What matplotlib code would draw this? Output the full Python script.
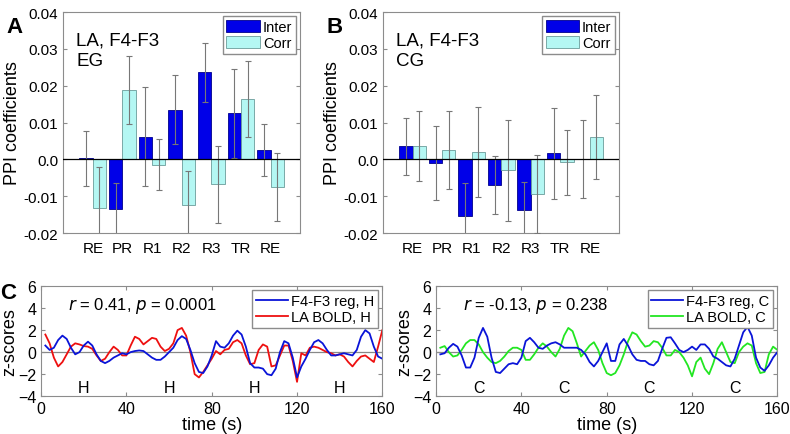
import matplotlib.pyplot as plt
import numpy as np

plt.rcParams['font.family'] = ['Liberation Sans', 'DejaVu Sans']

# Datos de los paneles A y B (coeficientes PPI)
phases = ['RE', 'PR', 'R1', 'R2', 'R3', 'TR', 'RE']
eg_inter = [0.0003, -0.0136, 0.0062, 0.0135, 0.0237, 0.0125, 0.0026]
eg_inter_err = [0.0074, 0.0071, 0.0134, 0.0093, 0.0080, 0.0120, 0.0070]
eg_corr = [-0.0131, 0.0189, -0.0014, -0.0123, -0.0068, 0.0165, -0.0076]
eg_corr_err = [0.0110, 0.0093, 0.0068, 0.0091, 0.0104, 0.0103, 0.0092]
cg_inter = [0.0035, -0.0009, -0.0153, -0.0069, -0.0138, 0.0016, 0.0001]
cg_inter_err = [0.0077, 0.0100, 0.0090, 0.0079, 0.0077, 0.0123, 0.0105]
cg_corr = [0.0035, 0.0025, 0.0020, -0.0030, -0.0095, -0.0008, 0.0061]
cg_corr_err = [0.0095, 0.0105, 0.0122, 0.0138, 0.0106, 0.0089, 0.0113]

# Datos del panel C (series temporales, cada 2 s)
time = list(range(2, 161, 2))
h_reg = [0.6, 0.2, 0.4, 1.1, 1.5, 1.2, 0.4, -0.2, 0.0, 0.6,
         0.95, 0.6, -0.2, -0.8, -1.0, -0.8, -0.5, -0.3, -0.1, -0.2,
         0.0, 0.1, 0.15, 0.1, -0.2, -0.5, -0.7, -0.7, -0.4, 0.0,
         0.4, 1.1, 1.45, 1.2, 0.2, -1.0, -1.8, -1.9, -1.3, -0.3,
         1.0, 0.5, 0.4, 0.8, 1.5, 1.95, 1.6, 0.5, -1.0, -1.4,
         -1.4, -1.5, -2.0, -2.1, -1.5, 0.0, 1.0, 0.8, -0.5, -2.3,
         -1.3, -0.6, 0.2, 0.9, 1.1, 0.8, 0.2, -0.3, -0.3, -0.2,
         -0.1, -0.2, -0.3, 0.2, 1.4, 2.0, 1.7, 0.5, -0.4, -0.6]
h_bold = [1.6, 0.8, -0.5, -1.3, -0.9, -0.2, 0.5, 0.8, 0.7, 0.55,
          0.5, 0.3, -0.3, -0.8, -0.6, 0.0, 0.5, 0.2, -0.3, -0.3,
          0.6, 1.4, 1.2, 0.7, 1.0, 1.3, 1.2, 0.5, 0.1, 0.3,
          0.8, 2.0, 2.2, 1.5, 0.0, -2.0, -2.3, -1.8, -1.2, -0.6,
          0.1, -0.2, 0.2, 0.3, 0.9, 1.1, 0.8, -0.3, -1.1, -1.0,
          0.2, 0.7, 0.5, -1.3, -1.2, -0.3, 0.6, 0.6, -0.8, -2.7,
          -0.1, -0.3, 0.4, 0.5, 0.4, 0.2, 0.0, -0.1, -0.3, -0.2,
          -0.4, -0.9, -1.3, -0.8, -0.4, -0.3, -0.6, -0.9, 0.5, 2.0]
c_reg = [-0.2, -0.1, 0.4, 0.75, 0.5, -0.3, -1.4, -1.4, -0.5, 1.3,
         2.2, 1.4, -0.5, -1.8, -1.9, -1.5, -1.1, -1.0, -1.1, -0.5,
         1.0, 1.3, 0.9, 0.4, 0.3, 0.6, 0.8, 0.9, 0.7, 0.4,
         0.4, 0.4, 0.4, 0.2, -0.2, -0.9, -1.3, -0.8, 0.0, 0.8,
         -0.8, -0.8, 0.7, 1.2, 0.6, -0.2, -0.7, -0.8, -0.8, -1.1,
         -1.2, -0.8, 0.3, 1.3, 1.35, 0.8, 0.2, 0.0, 0.2, 0.5,
         0.2, 0.7, 0.7, 0.3, -0.4, -0.6, -0.9, -1.2, -1.3, -0.6,
         0.6, 1.8, 2.3, 1.5, -0.5, -1.4, -1.7, -1.2, -0.5, 0.0]
c_bold = [0.4, 0.55, 0.0, -0.4, -0.3, 0.2, 0.8, 1.1, 1.1, 0.7,
          0.0, -0.5, -0.9, -1.0, -0.8, -0.4, 0.1, 0.4, 0.4, 0.2,
          -0.7, -0.7, -0.2, 0.4, 0.8, 0.5, 0.0, -0.4, 0.3, 1.5,
          2.2, 1.9, 0.8, -0.4, 0.1, 0.6, 0.9, 0.2, -1.0, -1.9,
          -2.1, -1.9, -1.2, -0.2, 1.0, 1.8, 1.6, 1.0, 0.5, 0.6,
          1.0, 0.9, 0.4, -0.3, -0.3, 0.2, 0.0, -0.5, -1.2, -2.2,
          -0.9, -0.5, -1.5, -2.0, -1.0, 0.3, 0.9, 0.0, -0.9, -1.0,
          0.0, 0.5, 0.8, 0.6, -1.0, -1.9, -1.8, -0.2, 0.5, 0.2]

inter_color = '#0000e8'
corr_color = '#b4f7f3'
spine_color = '#8c8c8c'

fig = plt.figure(figsize=(7.9, 4.35), dpi=100)


def style_axes(ax):
    for s in ax.spines.values():
        s.set_color(spine_color)
        s.set_linewidth(0.8)
    ax.tick_params(direction='in', top=True, right=True, labelsize=11,
                   color=spine_color, length=3, width=0.8)


def bar_panel(rect, inter, inter_err, corr, corr_err, group, letter):
    ax = fig.add_axes(rect)
    x = np.arange(1, len(phases) + 1)
    w = 0.45
    ax.bar(x - w / 2, inter, w, color=inter_color, edgecolor='#00008c',
           linewidth=0.6, label='Inter', zorder=2)
    ax.bar(x + w / 2, corr, w, color=corr_color, edgecolor='#6a9c9a',
           linewidth=0.6, label='Corr', zorder=2)
    ax.errorbar(x - w / 2, inter, yerr=inter_err, fmt='none', ecolor='#777777',
                elinewidth=0.8, capsize=2, capthick=0.8, zorder=3)
    ax.errorbar(x + w / 2, corr, yerr=corr_err, fmt='none', ecolor='#777777',
                elinewidth=0.8, capsize=2, capthick=0.8, zorder=3)
    ax.axhline(0, color='black', linewidth=0.9, zorder=4)
    ax.set_xlim(0, 8)
    ax.set_ylim(-0.02, 0.04)
    ax.set_xticks(x)
    ax.set_xticklabels(phases)
    ax.set_yticks(np.arange(-0.02, 0.041, 0.01))
    ax.set_yticklabels(['-0.02', '-0.01', '0.0', '0.01', '0.02', '0.03', '0.04'])
    ax.set_ylabel('PPI coefficients', fontsize=13, labelpad=2)
    style_axes(ax)
    ax.tick_params(axis='x', length=0, pad=6)
    ax.text(0.055, 0.91, 'LA, F4-F3\n' + group, transform=ax.transAxes,
            fontsize=13.5, va='top', ha='left', linespacing=1.25)
    leg = ax.legend(loc='upper right', fontsize=10.5, handlelength=2.3,
                    handleheight=0.9, handletextpad=0.2, borderpad=0.25,
                    borderaxespad=0.3, labelspacing=0.15, fancybox=False,
                    framealpha=1)
    leg.get_frame().set_edgecolor('#8c8c8c')
    fig.text(rect[0] - 0.072, rect[1] + rect[3] - 0.01, letter, fontsize=16,
             fontweight='bold', va='top')
    return ax


def ts_panel(rect, y1, y2, c2, lab1, lab2, stats, cond, letter=None):
    ax = fig.add_axes(rect)
    ax.axhline(0, color='#888888', linewidth=0.9, zorder=1)
    ax.plot(time, y1, color='#0a14d8', linewidth=1.3, label=lab1, zorder=3,
            solid_joinstyle='round')
    ax.plot(time, y2, color=c2, linewidth=1.3, label=lab2, zorder=2,
            solid_joinstyle='round')
    ax.set_xlim(0, 160)
    ax.set_ylim(-4, 6)
    ax.set_xticks([0, 40, 80, 120, 160])
    ax.set_yticks([-4, -2, 0, 2, 4, 6])
    ax.set_xlabel('time (s)', fontsize=13, labelpad=0)
    ax.set_ylabel('z-scores', fontsize=13, labelpad=0)
    style_axes(ax)
    ax.tick_params(labelsize=11.5)
    for t in [20, 60, 100, 140]:
        ax.text(t, -3.2, cond, fontsize=11.5, ha='center', va='center')
    ax.text(0.08, 0.83, stats, transform=ax.transAxes, fontsize=12,
            va='center', ha='left')
    leg = ax.legend(loc='upper right', fontsize=10.5, handlelength=2.2,
                    handletextpad=0.2, borderpad=0.25, borderaxespad=0.3,
                    labelspacing=0.15, fancybox=False, framealpha=1)
    leg.get_frame().set_edgecolor('#8c8c8c')
    if letter:
        fig.text(rect[0] - 0.052, rect[1] + rect[3] + 0.01, letter, fontsize=16,
                 fontweight='bold', va='top')
    return ax


bar_panel([0.080, 0.462, 0.300, 0.508], eg_inter, eg_inter_err, eg_corr,
          eg_corr_err, 'EG', 'A')
bar_panel([0.485, 0.462, 0.299, 0.508], cg_inter, cg_inter_err, cg_corr,
          cg_corr_err, 'CG', 'B')

ts_panel([0.052, 0.087, 0.432, 0.253], h_reg, h_bold, '#ee1010',
         'F4-F3 reg, H', 'LA BOLD, H',
         r'$\it{r}$ = 0.41, $\it{p}$ = 0.0001', 'H', 'C')
ts_panel([0.552, 0.087, 0.432, 0.253], c_reg, c_bold, '#22e622',
         'F4-F3 reg, C', 'LA BOLD, C',
         r'$\it{r}$ = -0.13, $\it{p}$ = 0.238', 'C')

fig.savefig('out.png', dpi=100)
